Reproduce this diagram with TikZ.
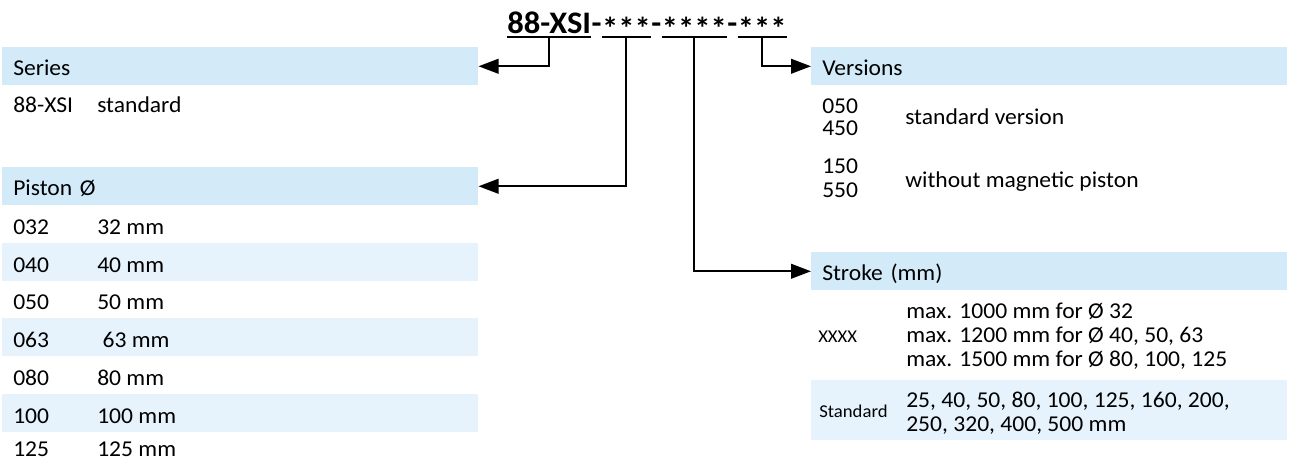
\documentclass[tikz,border=0pt]{standalone}
\usepackage{fontspec}
\setmainfont{Carlito}[FakeStretch=1.04]
\newfontfamily\codefont{Carlito}[FakeStretch=1.04]
\usetikzlibrary{arrows.meta,positioning}
\definecolor{hdrblue}{RGB}{211,234,249}
\definecolor{rowblue}{RGB}{230,243,252}
\tikzset{
  txt/.style={inner sep=0pt, anchor=base west, font=\fontsize{17}{18}\selectfont},
  small/.style={txt, font=\fontsize{13.5}{15}\selectfont},
  hdr/.style={fill=hdrblue, anchor=north west, inner xsep=8.25pt, inner ysep=0pt,
    minimum height=28.5pt, text width=340.5pt, align=left,
    text height=13.5pt, text depth=0pt, font=\fontsize{17}{18}\selectfont},
  rowband/.style={fill=rowblue, inner sep=0pt, minimum width=357pt, minimum height=28.5pt},
  code/.style={inner sep=0pt, font=\codefont\bfseries\fontsize{23.5}{26}\selectfont},
  uline/.style={line width=1.5pt},
  conn/.style={line width=1.5pt, -{Triangle[length=15pt,width=11pt]}}
}
\newcommand\stars[1]{\raisebox{-5pt}{#1}}
\begin{document}
\begin{tikzpicture}[x=0.75pt, y=-0.75pt]
  \useasboundingbox (0,0) rectangle (1290,461);
  % order code
  \node[code, anchor=base west] (cser) at (507,33) {88-XSI};
  \node[code, base right=0pt of cser] (d1) {-};
  \node[code, base right=0pt of d1] (cpis) {\stars{***}};
  \node[code, base right=0pt of cpis] (d2) {-};
  \node[code, base right=0pt of d2] (cstr) {\stars{****}};
  \node[code, base right=0pt of cstr] (d3) {-};
  \node[code, base right=0pt of d3] (cver) {\stars{***}};
  \foreach \n in {cser,cpis,cstr,cver}
    \draw[uline] ([yshift=-3pt]\n.base west) -- ([yshift=-3pt]\n.base east);

  % headers
  \node[hdr] (series) at (2,47) {Series};
  \node[hdr] (piston) at (2,167) {Piston Ø};
  \node[hdr] (versions) at (811,47) {Versions};
  \node[hdr] (stroke) at (811,252) {Stroke (mm)};

  % series
  \node[txt] (s88) at (13,112) {88-XSI};
  \node[txt] (sstd) at (97,112) {standard};

  % piston rows
  \foreach \c/\d/\b [count=\i] in {032/32 mm/234, 040/40 mm/272, 050/50 mm/309,
      063/\ 63 mm/347, 080/80 mm/385, 100/100 mm/423, 125/125 mm/456} {
    \ifodd\i\else
      \node[rowband, anchor=west] (band\i) at (2,\b-10) {};
    \fi
    \node[txt] (pc\i) at (13,\b) {\c};
    \node[txt] (pd\i) at (97,\b) {\d};
  }

  % versions
  \node[txt] (v050) at (822,113) {050};
  \node[txt] (v450) at (822,135) {450};
  \node[txt] (vstd) at (905,124) {standard version};
  \node[txt] (v150) at (822,173) {150};
  \node[txt] (v550) at (822,197) {550};
  \node[txt] (vmag) at (905,187) {without magnetic piston};

  % stroke (base of a multi-line node = its last line)
  \node[small] (sxx) at (818,342) {XXXX};
  \node[txt, align=left] (smax) at (906,366)
    {max. 1000 mm for Ø 32\\max. 1200 mm for Ø 40, 50, 63\\max. 1500 mm for Ø 80, 100, 125};
  \node[rowband, anchor=north west, minimum height=45pt] (stdband) at (811,380) {};
  \node[small] (sstd2) at (819,417) {Standard};
  \node[txt, align=left] (slist) at (906,431)
    {25, 40, 50, 80, 100, 125, 160, 200,\\250, 320, 400, 500 mm};

  % connectors
  \draw[conn] ([yshift=-3pt]cser.base) |- (series.east);
  \draw[conn] ([yshift=-3pt]cpis.base) |- (piston.east);
  \draw[conn] ([yshift=-3pt]cstr.base) |- (stroke.west);
  \draw[conn] ([yshift=-3pt]cver.base) |- (versions.west);
\end{tikzpicture}
\end{document}
